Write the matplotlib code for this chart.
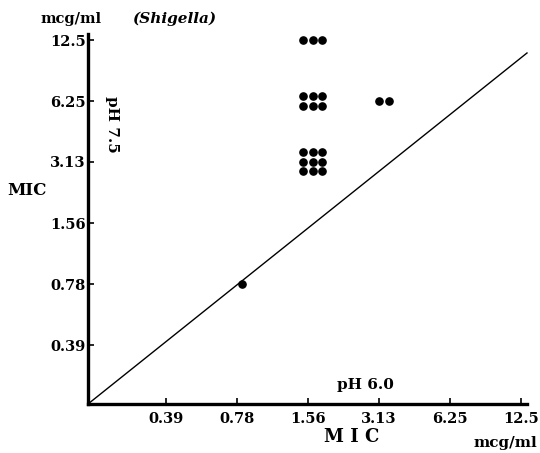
import math
import matplotlib
matplotlib.use("Agg")
import matplotlib.pyplot as plt
from matplotlib.transforms import offset_copy

# MIC values (mcg/ml) of Shigella strains at pH 6.0 vs pH 7.5
mic_ph60 = [0.78, 1.56, 1.56, 1.56, 3.13]
mic_ph75 = [0.78, 3.13, 6.25, 12.5, 6.25]
n_strains = [1, 9, 6, 3, 2]

tick_vals = [0.39, 0.78, 1.56, 3.13, 6.25, 12.5]
tick_labels = ["0.39", "0.78", "1.56", "3.13", "6.25", "12.5"]

# reference line (end points)
line_x = [0.182, 13.3]
line_y = [0.20, 10.8]

W, H = 540, 453
plt.rcParams["font.family"] = ["DejaVu Serif"]
plt.rcParams["font.weight"] = "bold"

fig = plt.figure(figsize=(W / 100, H / 100), dpi=100)
ax = fig.add_axes([88 / W, 1 - 404 / H, 439 / W, 370 / H])

ax.set_xscale("log", base=2)
ax.set_yscale("log", base=2)
ax.set_xlim(0.182, 13.3)
ax.set_ylim(0.20, 13.4)

ax.plot(line_x, line_y, color="black", lw=1.0, clip_on=False)

# strains drawn as small clusters of dots around each MIC pair
step = 9.5
for x, y, n in zip(mic_ph60, mic_ph75, n_strains):
    ncols = min(n, 3)
    nrows = math.ceil(n / 3)
    for i in range(n):
        r, c = divmod(i, 3)
        dx = (c - (ncols - 1) / 2) * step + 5
        dy = -(r - (nrows - 1) / 2) * step
        tr = offset_copy(ax.transData, fig=fig, x=dx, y=dy, units="dots")
        ax.plot([x], [y], "o", color="black", ms=5.2, transform=tr, clip_on=False)

ax.set_xticks(tick_vals)
ax.set_xticklabels(tick_labels)
ax.set_yticks(tick_vals)
ax.set_yticklabels(tick_labels)
ax.minorticks_off()
ax.tick_params(axis="x", direction="in", length=4, width=1.2, pad=6, labelsize=10.5)
ax.tick_params(axis="y", direction="in", length=4, width=1.2, pad=1.5, labelsize=10.5)

for s in ["top", "right"]:
    ax.spines[s].set_visible(False)
for s in ["left", "bottom"]:
    ax.spines[s].set_linewidth(2.4)

def ftext(px, py, s, **kw):
    fig.text(px / W, 1 - py / H, s, va="center", **kw)

ftext(71, 19, "mcg/ml", ha="center", fontsize=10.5)
ftext(174, 19, "(Shigella)", ha="center", fontsize=11, style="italic")
ftext(27, 191, "MIC", ha="center", fontsize=12)
ftext(112, 124, "pH 7.5", ha="center", fontsize=11, rotation=-90)
ftext(365, 385, "pH 6.0", ha="center", fontsize=11)
ftext(352, 437, "M I C", ha="center", fontsize=13)
ftext(474, 443, "mcg/ml", ha="left", fontsize=11)

fig.savefig("out.png", dpi=100)
